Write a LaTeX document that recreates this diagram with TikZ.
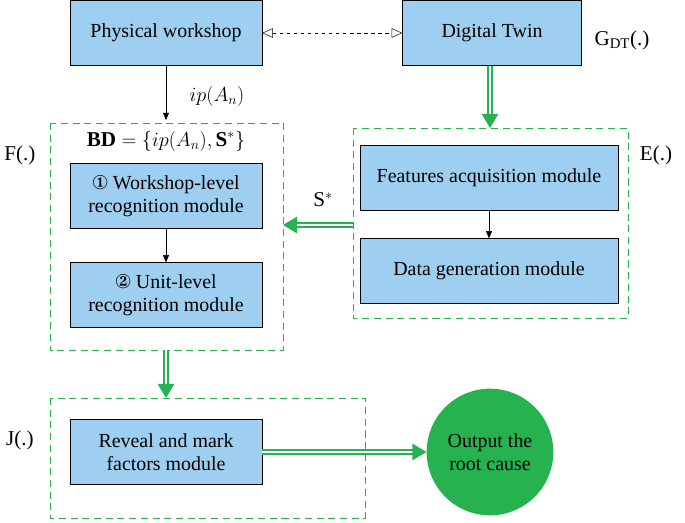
\documentclass[tikz,border=0pt]{standalone}
\usepackage{amsmath}
\usepackage{pifont}
\usepackage{fontspec}
\setmainfont{Liberation Serif}
\usetikzlibrary{calc}
\usetikzlibrary{arrows.meta}
\definecolor{boxblue}{RGB}{158,206,240}
\definecolor{gr}{RGB}{38,178,78}
\tikzset{
	mod/.style={draw, fill=boxblue, minimum width=5.76cm, minimum height=1.95cm, align=center, font=\fontsize{17}{20}\selectfont},
	grp/.style={draw=gr, dashed, thick, dash pattern=on 6pt off 4pt},
	garrow/.style={draw=gr, double=white, double distance=2.5pt, line width=1.2pt, -{Triangle[length=12pt,width=14pt,fill=gr]}},
	lbl/.style={font=\fontsize{18}{20}\selectfont}
}
\begin{document}
\begin{tikzpicture}[x=0.03cm,y=-0.03cm]
	\useasboundingbox (0,0) rectangle (685,522);
	% groups
	\draw[grp] (50,123) rectangle (283,350);
	\draw[grp] (353,128) rectangle (628,318);
	\draw[grp] (50,398) rectangle (365,518);
	\coordinate (Fr) at (283,225);
	\coordinate (Er) at (353,225);
	\coordinate (Fb) at (166,350);
	\coordinate (Jt) at (166,398);
	\coordinate (Et) at (490,128);
	\coordinate (Ft) at (166,120);
	% modules
	\node[mod] (pw) at (166,33) {Physical workshop};
	\node[mod, minimum width=5.37cm] (dt) at (492,33) {Digital Twin};
	\node[mod] (wl) at (166,196) {\ding{172} Workshop-level\\recognition module};
	\node[mod] (ul) at (166,295) {\ding{173} Unit-level\\recognition module};
	\node[mod, minimum width=7.74cm] (fa) at (489,178) {Features acquisition module};
	\node[mod, minimum width=7.74cm] (dg) at (489,271) {Data generation module};
	\node[mod] (rv) at (166,452) {Reveal and mark\\factors module};
	\node[circle, fill=gr, minimum size=3.8cm, align=center, font=\fontsize{17}{20}\selectfont] (rc) at (490,452) {Output the\\root cause};
	% labels
	\node[lbl] (gdt) at (622,40) {G$_{\text{DT}}$(.)};
	\node[lbl] (fl) at (20,155) {F(.)};
	\node[lbl] (el) at (656,155) {E(.)};
	\node[lbl] (jl) at (20,440) {J(.)};
	\node[lbl] (ip) at (217,96) {$ip(A_n)$};
	\node[lbl] (bd) at (166,141) {$\mathbf{BD}=\{ip(A_n),\mathbf{S}^{*}\}$};
	\node[lbl] (ss) at (323,200) {S$^{*}$};
	% connectors
	\draw[dashed, {Triangle[open,length=9pt,width=8pt]}-{Triangle[open,length=9pt,width=8pt]}] (pw) -- (dt);
	\draw[-{Triangle[length=6pt,width=5pt]}] (pw) -- (Ft);
	\draw[-{Triangle[length=6pt,width=5pt]}] (wl) -- (ul);
	\draw[-{Triangle[length=6pt,width=5pt]}] (fa) -- (dg);
	\draw[garrow] (dt.south -| Et) -- (Et);
	\draw[garrow] (Er) -- (Fr);
	\draw[garrow] (Fb) -- (Jt);
	\draw[garrow] (rv) -- (rc);
\end{tikzpicture}
\end{document}
